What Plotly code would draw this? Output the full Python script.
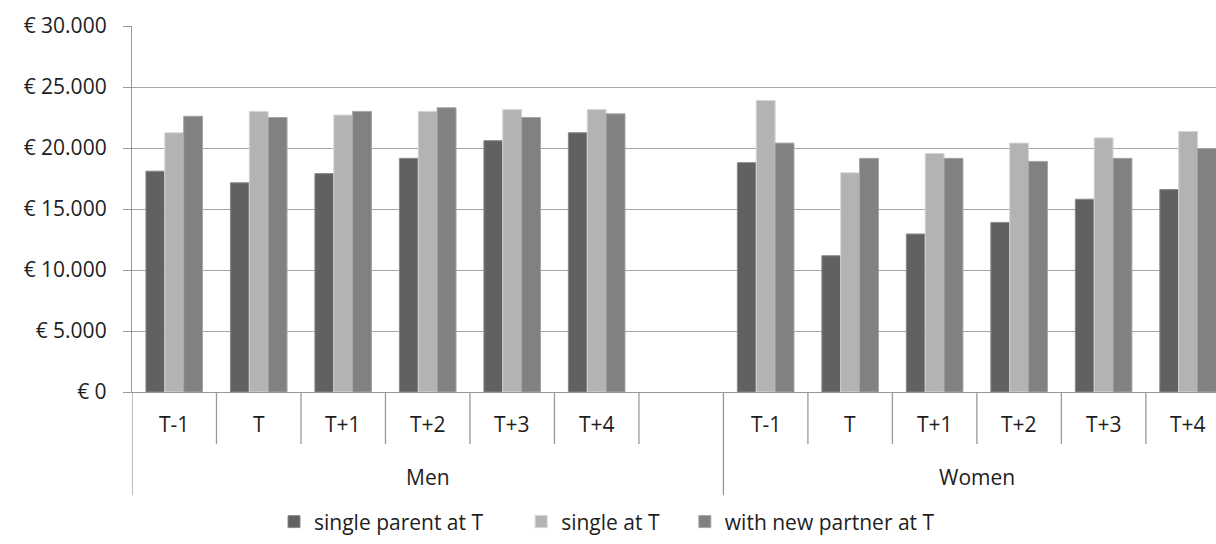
import plotly.graph_objects as go

groups = ["Men", "Women"]
periods = ["T-1", "T", "T+1", "T+2", "T+3", "T+4"]
series_names = ["single parent at T", "single at T", "with new partner at T"]

men_single_parent = [18100, 17150, 17900, 19150, 20600, 21250]
men_single = [21250, 23000, 22700, 23000, 23150, 23150]
men_new_partner = [22600, 22500, 23000, 23300, 22500, 22800]

women_single_parent = [18800, 11170, 12950, 13900, 15800, 16600]
women_single = [23900, 17970, 19550, 20400, 20830, 21350]
women_new_partner = [20400, 19150, 19150, 18900, 19150, 19960]

ytick_vals = [0, 5000, 10000, 15000, 20000, 25000, 30000]
ytick_text = ["€ 0", "€ 5.000", "€ 10.000", "€ 15.000", "€ 20.000", "€ 25.000", "€ 30.000"]

colors = ["#616161", "#b3b3b3", "#818181"]
edge_colors = ["#8a8a8a", "#d6d6d6", "#a5a5a5"]

# category layout: Men periods, one blank slot, Women periods
labels = periods + [""] + periods
xpos = list(range(len(labels)))
men_idx = xpos[:len(periods)]
women_idx = xpos[len(periods) + 1:]

series = [
    (men_single_parent, women_single_parent),
    (men_single, women_single),
    (men_new_partner, women_new_partner),
]

FONT = "Open Sans"
FS = 21
TXT = "#1e1e1e"
axis_grey = "#999999"

legend_keys = ["legend", "legend2", "legend3"]
legend_x = [0.131, 0.359, 0.510]

fig = go.Figure()
for i, (m, w) in enumerate(series):
    yvals = list(m) + [None] + list(w)
    fig.add_trace(go.Bar(
        x=xpos, y=yvals, name=series_names[i], legend=legend_keys[i],
        marker=dict(color=colors[i], line=dict(color=edge_colors[i], width=1)),
    ))

legend_common = dict(orientation="h", xanchor="left", xref="paper",
                     y=-0.355, yanchor="middle",
                     font=dict(size=FS, family=FONT, color=TXT),
                     itemwidth=30, itemclick=False, bgcolor="rgba(0,0,0,0)")

fig.update_layout(
    width=1216, height=544,
    margin=dict(l=132, r=0, t=26, b=152),
    plot_bgcolor="white", paper_bgcolor="white",
    barmode="group", bargap=0.33, bargroupgap=0,
    font=dict(family=FONT, size=FS, color=TXT),
    showlegend=True,
    legend=dict(x=legend_x[0], **legend_common),
    legend2=dict(x=legend_x[1], **legend_common),
    legend3=dict(x=legend_x[2], **legend_common),
    xaxis=dict(range=[-0.5, 12.33], showticklabels=False, showgrid=False,
               zeroline=False, showline=True, linecolor=axis_grey, linewidth=1.3,
               ticks=""),
    yaxis=dict(range=[0, 30000], tickvals=ytick_vals, ticktext=ytick_text,
               showgrid=True, gridcolor="#a6a6a6", gridwidth=1.3,
               zeroline=False, showline=True, linecolor=axis_grey, linewidth=1.3,
               ticks="outside", ticklen=8, tickcolor=axis_grey, tickwidth=1.3,
               ticklabelstandoff=12,
               tickfont=dict(size=FS, family=FONT, color=TXT)),
)

# inner category labels and dividers
for xp, lab in zip(xpos, labels):
    if lab:
        fig.add_annotation(x=xp, y=-0.087, xref="x", yref="paper", text=lab,
                           showarrow=False, font=dict(size=FS, family=FONT, color=TXT),
                           yanchor="middle")
for k in range(len(labels)):
    b = k - 0.5
    if b in (-0.5, 6.5):
        continue
    fig.add_shape(type="line", x0=b, x1=b, y0=0, y1=-0.142, xref="x", yref="paper",
                  line=dict(color=axis_grey, width=1.3))

# group labels and dividers
group_centers = [(men_idx[0] - 0.5 + 6.5) / 2, (women_idx[0] - 0.5 + 12.5) / 2]
for g, c in zip(groups, group_centers):
    fig.add_annotation(x=c, y=-0.232, xref="x", yref="paper", text=g,
                       showarrow=False, font=dict(size=FS, family=FONT, color=TXT),
                       yanchor="middle")
for b in (-0.5, 6.5):
    fig.add_shape(type="line", x0=b, x1=b, y0=0, y1=-0.282, xref="x", yref="paper",
                  line=dict(color=axis_grey, width=1.3))

fig.write_html("out.html", post_script="document.body.style.margin='0';",
               config={"displayModeBar": False})
